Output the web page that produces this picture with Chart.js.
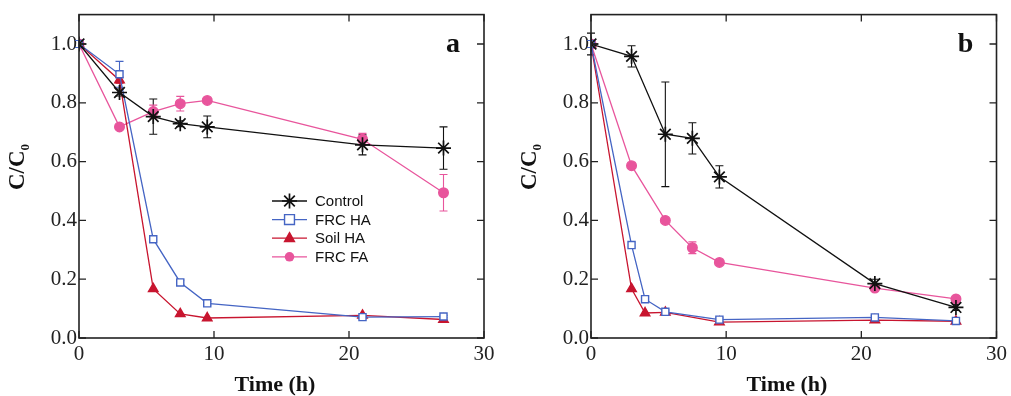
<!DOCTYPE html>
<html>
<head>
<meta charset="utf-8">
<script src="https://cdn.jsdelivr.net/npm/chart.js@4"></script>
<style>
html,body{margin:0;padding:0;background:#fff}
#wrap{position:relative;width:1011px;height:396px;overflow:hidden}
#ca{position:absolute;left:0;top:0}
#cb{position:absolute;left:505px;top:0}
</style>
</head>
<body>
<div id="wrap">
<canvas id="ca" width="505" height="396"></canvas>
<canvas id="cb" width="506" height="396"></canvas>
</div>
<script>
/* Panel data (C/C0 vs time) */
const names=['Control','FRC HA','Soil HA','FRC FA'];
const xTicks=[0,10,20,30];
const yTicks=[0,0.2,0.4,0.6,0.8,1.0];

// panel a
const tA=[0,3,5.5,7.5,9.5,21,27];
const ctlA=[1.0,0.835,0.753,0.729,0.718,0.657,0.646];
const ctlAErr=[0.012,0.012,0.06,0.01,0.037,0.034,0.072];
const frcHaA=[1.0,0.897,0.336,0.189,0.118,0.071,0.073];
const frcHaAErr=[0.012,0.044,0,0.008,0.006,0.004,0.004];
const soilHaA=[1.0,0.877,0.167,0.082,0.068,0.077,0.063];
const soilHaAErr=[0,0.01,0,0,0,0,0];
const frcFaA=[1.0,0.718,0.77,0.797,0.808,0.676,0.494];
const frcFaAErr=[0,0,0.022,0.025,0,0.02,0.062];

// panel b
const tB=[0,3,5.5,7.5,9.5,21,27];
const tBHa=[0,3,4,5.5,9.5,21,27];
const ctlB=[1.0,0.958,0.693,0.679,0.548,0.185,0.104];
const ctlBErr=[0.037,0.036,0.178,0.053,0.038,0.015,0.01];
const frcHaB=[1.0,0.316,0.132,0.089,0.0625,0.07,0.058];
const frcHaBErr=[0.012,0,0.008,0.006,0.006,0.006,0.006];
const soilHaB=[1.0,0.167,0.085,0.087,0.054,0.061,0.057];
const soilHaBErr=[0,0,0,0,0,0,0];
const frcFaB=[1.0,0.586,0.40,0.307,0.257,0.17,0.133];
const frcFaBErr=[0,0,0,0.02,0,0,0];

const COL=['#111111','#4565c4','#c8152f','#e8559c'];
const PS=['star','rect','triangle','circle'];
const PR=[7.5,5,5.5,4.8];
const PF=['#111111','#ffffff','#c8152f','#e8559c'];

function pts(t,v){return t.map(function(x,i){return{x:x,y:v[i]}})}
function ds(k,t,v,e){
 return{label:names[k],data:pts(t,v),errors:e,borderColor:COL[k],backgroundColor:PF[k],
  borderWidth:1.3,pointStyle:PS[k],pointRadius:PR[k],pointBorderColor:COL[k],
  pointBackgroundColor:PF[k],pointBorderWidth:k==0?1.7:1.4,tension:0,fill:false,showLine:true}
}
function mark(ctx,k,x,y){
 var r=PR[k];ctx.save();ctx.strokeStyle=COL[k];ctx.fillStyle=PF[k];ctx.lineWidth=k==0?1.7:1.4;
 ctx.beginPath();
 if(k==0){ctx.moveTo(x-r,y);ctx.lineTo(x+r,y);ctx.moveTo(x,y-r);ctx.lineTo(x,y+r);
  var d=r*0.707;ctx.moveTo(x-d,y-d);ctx.lineTo(x+d,y+d);ctx.moveTo(x-d,y+d);ctx.lineTo(x+d,y-d);ctx.stroke()}
 else if(k==1){var s=r*0.707*1.4;ctx.rect(x-s,y-s,2*s,2*s);ctx.fill();ctx.stroke()}
 else if(k==2){ctx.moveTo(x,y-r);ctx.lineTo(x+r*0.9,y+r*0.6);ctx.lineTo(x-r*0.9,y+r*0.6);ctx.closePath();ctx.fill();ctx.stroke()}
 else{ctx.arc(x,y,r,0,Math.PI*2);ctx.fill()}
 ctx.restore()
}
function deco(letter,titleX,legend){
 return{id:'deco'+letter,
  beforeDatasetsDraw:function(c){
   var ctx=c.ctx,sy=c.scales.y;ctx.save();
   c.data.datasets.forEach(function(d,i){
    var m=c.getDatasetMeta(i);ctx.strokeStyle=d.borderColor;ctx.lineWidth=1.1;
    d.errors.forEach(function(e,j){
     if(!e)return;var p=m.data[j],v=d.data[j].y;
     var a=sy.getPixelForValue(v+e),b=sy.getPixelForValue(v-e);
     ctx.beginPath();ctx.moveTo(p.x,a);ctx.lineTo(p.x,b);
     ctx.moveTo(p.x-4,a);ctx.lineTo(p.x+4,a);ctx.moveTo(p.x-4,b);ctx.lineTo(p.x+4,b);ctx.stroke()
    })
   });
   ctx.restore()
  },
  afterDraw:function(c){
   var ctx=c.ctx,a=c.chartArea,sx=c.scales.x,sy=c.scales.y;
   ctx.save();ctx.strokeStyle='#222';ctx.lineWidth=1.6;
   ctx.strokeRect(a.left,a.top,a.right-a.left,a.bottom-a.top);
   ctx.lineWidth=1.3;ctx.beginPath();
   yTicks.forEach(function(v){var y=sy.getPixelForValue(v);
    ctx.moveTo(a.left,y);ctx.lineTo(a.left+7,y);ctx.moveTo(a.right,y);ctx.lineTo(a.right-7,y)});
   xTicks.forEach(function(v){var x=sx.getPixelForValue(v);
    ctx.moveTo(x,a.bottom);ctx.lineTo(x,a.bottom-7);ctx.moveTo(x,a.top);ctx.lineTo(x,a.top+7)});
   ctx.stroke();
   // titles
   ctx.fillStyle='#111';ctx.font='bold 22px "Liberation Serif"';ctx.textAlign='center';ctx.textBaseline='alphabetic';
   ctx.fillText('Time (h)',titleX,391);
   ctx.save();ctx.translate(a.left-55,(a.top+a.bottom)/2-10);ctx.rotate(-Math.PI/2);
   ctx.font='bold 23px "Liberation Serif"';
   ctx.textAlign='left';var w=ctx.measureText('C/C').width;
   ctx.fillText('C/C',-w/2-4,0);ctx.font='bold 13px "Liberation Serif"';ctx.fillText('0',w/2-4,5);
   ctx.restore();
   ctx.font='bold 28px "Liberation Serif"';ctx.textAlign='center';
   ctx.fillText(letter,a.right-31,a.top+37);
   if(legend){
    ctx.font='15px "Liberation Sans"';ctx.textAlign='left';ctx.textBaseline='middle';
    names.forEach(function(n,k){var y=201+k*18.6;
     ctx.strokeStyle=COL[k];ctx.lineWidth=1.3;ctx.beginPath();ctx.moveTo(272,y);ctx.lineTo(307,y);ctx.stroke();
     mark(ctx,k,289.5,y);ctx.fillStyle='#111';ctx.fillText(n,315,y+1)})
   }
   ctx.restore()
  }}
}
function opts(left,right,top){
 return{responsive:false,animation:false,
  layout:{padding:{left:0,right:right,top:top,bottom:0}},
  plugins:{legend:{display:false},tooltip:{enabled:false}},
  scales:{
   x:{type:'linear',min:0,max:30,grid:{display:false,drawTicks:false},border:{display:false},
    afterFit:function(s){s.height=58},
    ticks:{stepSize:10,padding:4,color:'#222',font:{family:'Liberation Serif',size:21}}},
   y:{type:'linear',min:0,max:1.1,grid:{display:false,drawTicks:false},border:{display:false},
    afterFit:function(s){s.width=left},
    ticks:{stepSize:0.2,includeBounds:false,padding:2,color:'#222',font:{family:'Liberation Serif',size:21},
     callback:function(v){return v.toFixed(1)}}}
  }}
}
new Chart(document.getElementById('ca'),{type:'line',
 data:{datasets:[ds(0,tA,ctlA,ctlAErr),ds(1,tA,frcHaA,frcHaAErr),ds(2,tA,soilHaA,soilHaAErr),ds(3,tA,frcFaA,frcFaAErr)]},
 options:opts(79,21,13),plugins:[deco('a',275,true)]});
new Chart(document.getElementById('cb'),{type:'line',
 data:{datasets:[ds(0,tB,ctlB,ctlBErr),ds(1,tBHa,frcHaB,frcHaBErr),ds(2,tBHa,soilHaB,soilHaBErr),ds(3,tB,frcFaB,frcFaBErr)]},
 options:opts(86,12,11),plugins:[deco('b',282,false)]});
</script>
</body>
</html>
